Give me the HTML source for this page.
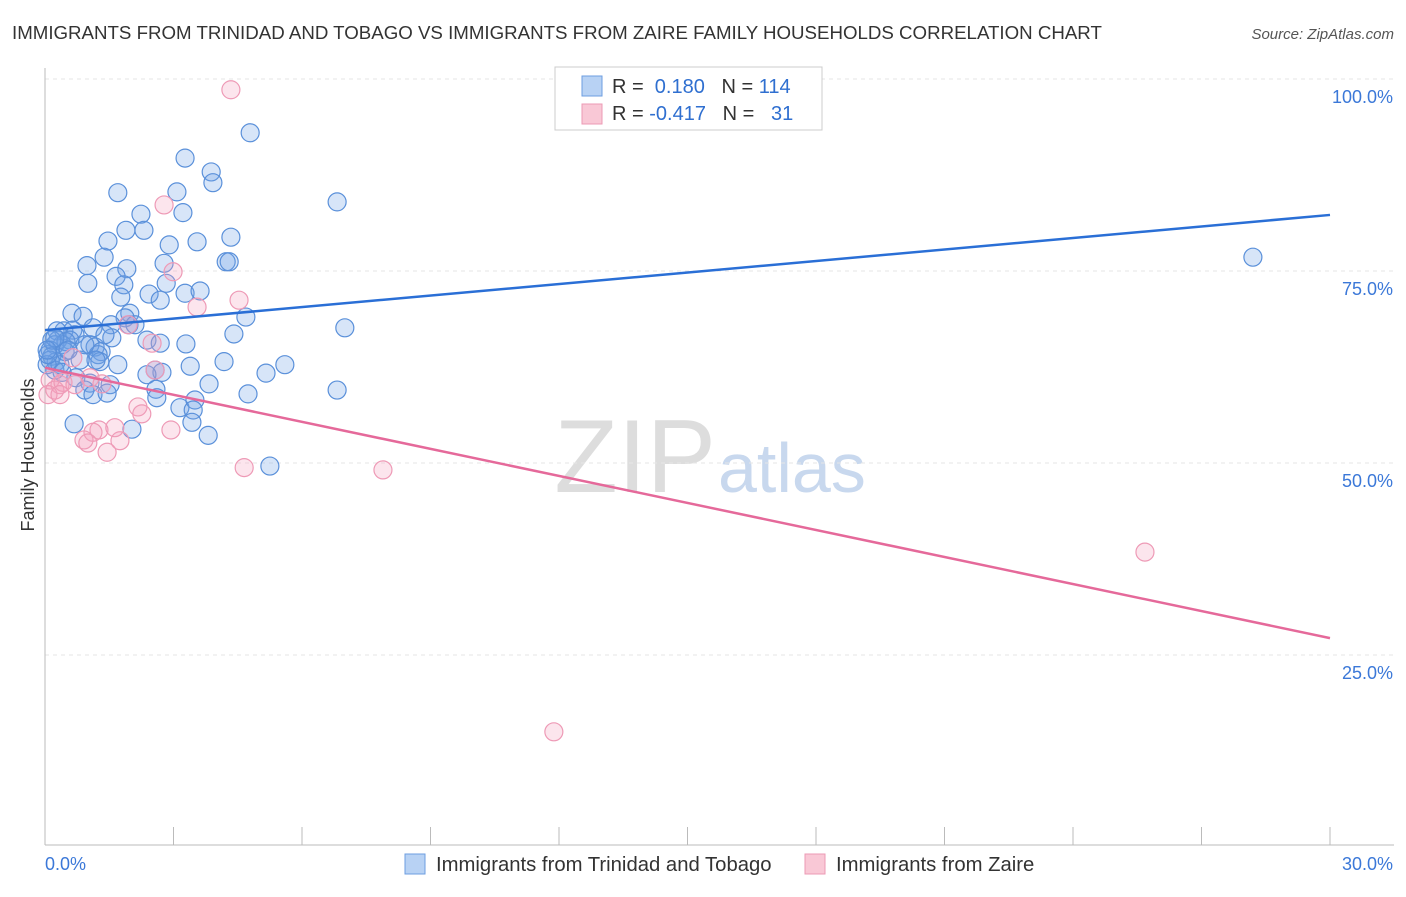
<!DOCTYPE html>
<html><head><meta charset="utf-8"><style>
body{margin:0;background:#fff;font-family:"Liberation Sans",sans-serif;}
svg text{font-family:"Liberation Sans",sans-serif;}
</style></head><body>
<svg id="chart" width="1406" height="892">
<text x="12" y="39" font-size="18.7" fill="#333">IMMIGRANTS FROM TRINIDAD AND TOBAGO VS IMMIGRANTS FROM ZAIRE FAMILY HOUSEHOLDS CORRELATION CHART</text>
<text x="1394" y="39" font-size="15" fill="#555" font-style="italic" text-anchor="end">Source: ZipAtlas.com</text>
<text x="716" y="492" font-size="104" fill="#ddd" text-anchor="end" font-family="Liberation Serif">ZIP</text>
<text x="718" y="492" font-size="70" fill="#c8d8ee">atlas</text>
<g id="grid"></g><g id="axes"></g><g id="pts"></g><g id="lines"></g>
<text transform="translate(34,455) rotate(-90)" font-size="18" fill="#333" text-anchor="middle">Family Households</text>
<g>
<rect x="555" y="67" width="267" height="63" fill="#fff" stroke="#ccc"/>
<rect x="582" y="76" width="20" height="20" fill="#b8d2f4" stroke="#6d9ee0"/>
<rect x="582" y="104" width="20" height="20" fill="#f9c8d6" stroke="#ec9ab4"/>
<text x="612" y="93" font-size="20" fill="#333">R = <tspan fill="#2f6fd0">&#160;0.180</tspan>&#160;&#160;&#160;N = <tspan fill="#2f6fd0">114</tspan></text>
<text x="612" y="120" font-size="20" fill="#333">R = <tspan fill="#2f6fd0">-0.417</tspan>&#160;&#160;&#160;N = <tspan fill="#2f6fd0">&#160;&#160;31</tspan></text>
</g>
<g>
<rect x="405" y="854" width="20" height="20" fill="#b8d2f4" stroke="#6d9ee0"/>
<text x="436" y="871" font-size="20.3" fill="#333">Immigrants from Trinidad and Tobago</text>
<rect x="805" y="854" width="20" height="20" fill="#f9c8d6" stroke="#ec9ab4"/>
<text x="836" y="871" font-size="20.3" fill="#333">Immigrants from Zaire</text>
</g>
</svg>
<script>
const yTicks=[25,50,75,100];
const yTickLabels=["25.0%","50.0%","75.0%","100.0%"];
const xTicks=[0,3,6,9,12,15,18,21,24,27,30];
const blueX=[4.79,3.27,3.88,3.92,1.70,3.08,6.82,2.24,3.22,1.89,2.31,4.34,3.55,2.90,1.47,1.38,0.98,1.91,4.23,4.30,1.66,1.00,2.78,2.83,1.84,1.77,2.43,2.69,3.27,3.62,1.98,1.87,4.69,0.63,0.89,1.54,1.96,2.10,1.12,0.44,0.65,4.41,7.00,0.28,0.30,0.70,0.58,0.40,0.23,0.12,0.16,0.26,0.49,1.05,1.56,1.17,2.38,3.29,2.69,1.31,1.24,1.28,1.19,1.70,3.39,4.18,5.60,5.16,2.57,2.73,2.38,0.72,1.05,1.52,3.83,6.82,0.93,1.12,1.45,2.59,2.61,4.74,3.15,3.50,3.46,3.43,3.81,0.68,2.03,5.25,0.12,0.23,0.35,0.05,0.07,0.16,0.47,0.82,28.2,0.93,1.40,0.23,0.54,0.05,0.40];
const blueY=[93.0,89.7,87.9,86.5,85.2,85.3,84.0,82.4,82.6,80.3,80.3,79.4,78.8,78.4,78.9,76.8,75.7,75.3,76.2,76.2,74.3,73.4,76.0,73.4,73.2,71.6,72.0,71.2,72.1,72.4,69.5,68.9,69.0,69.5,69.1,68.0,68.0,68.0,67.6,67.2,67.3,66.8,67.6,67.2,66.0,66.7,66.0,65.4,65.4,64.7,63.9,63.2,65.8,65.4,66.3,65.1,66.0,65.5,65.6,64.5,64.1,63.2,63.4,62.8,62.6,63.2,62.8,61.7,62.1,61.8,61.5,61.1,60.4,60.2,60.3,59.5,59.5,58.9,59.1,59.6,58.5,59.0,57.2,58.2,56.9,55.3,53.6,55.1,54.4,49.6,63.4,62.1,62.8,62.8,64.1,66.0,64.5,63.4,76.8,65.4,66.7,66.3,64.7,64.7,61.8];
const pinkX=[4.34,2.78,2.99,3.55,4.53,1.94,2.50,2.57,0.65,0.12,0.35,0.23,0.07,0.42,1.05,0.70,1.33,2.17,2.26,1.26,1.12,1.75,0.91,1.00,1.45,2.94,4.65,7.89,25.68,11.88,0.35,1.63];
const pinkY=[98.6,83.6,74.9,70.3,71.2,68.0,65.6,62.1,63.7,60.8,60.2,59.5,58.9,60.5,61.1,60.2,60.3,57.3,56.4,54.3,54.0,52.9,53.0,52.6,51.4,54.3,49.4,49.1,38.4,15.0,58.9,54.6];
const blueTrend=[67.3,82.3];
const pinkTrend=[62.4,27.2];
const NS="http://www.w3.org/2000/svg";
const X0=45,X1=1330,Y100=79,Y50=463;
function sx(v){return X0+(X1-X0)*v/30;}
function sy(v){return Y50-(v-50)*(Y50-Y100)/50;}
function mk(tag,attrs,parent){const e=document.createElementNS(NS,tag);for(const k in attrs)e.setAttribute(k,attrs[k]);document.getElementById(parent).appendChild(e);return e;}
yTicks.forEach((t,i)=>{
 const l=mk('line',{x1:X0,x2:1394,y1:sy(t),y2:sy(t),stroke:'#e6e6e6','stroke-dasharray':'4,4'},'grid');
 
 
 const tx=mk('text',{x:1393,y:sy(t)+24,'font-size':18,fill:'#3b78d8','text-anchor':'end'},'grid');
 tx.textContent=yTickLabels[i];
 
 
});
const ax=mk('line',{x1:X0,x2:X0,y1:68,y2:845,stroke:'#bbb'},'axes');


const bx=mk('line',{x1:X0,x2:1394,y1:845,y2:845,stroke:'#bbb'},'axes');


xTicks.forEach(t=>{
 const l=mk('line',{x1:sx(t),x2:sx(t),y1:827,y2:845,stroke:'#bbb'},'axes');
 
 
});
const xl0=mk('text',{x:45,y:870,'font-size':18,fill:'#3b78d8'},'axes');xl0.textContent='0.0%';


const xl1=mk('text',{x:1393,y:870,'font-size':18,fill:'#3b78d8','text-anchor':'end'},'axes');xl1.textContent='30.0%';


blueX.forEach((v,i)=>{
 const c=mk('circle',{cx:sx(v),cy:sy(blueY[i]),r:9,fill:'rgba(110,160,230,0.28)',stroke:'#5a90da','stroke-width':1.2},'pts');
 
 
});
pinkX.forEach((v,i)=>{
 const c=mk('circle',{cx:sx(v),cy:sy(pinkY[i]),r:9,fill:'rgba(245,160,190,0.28)',stroke:'#ee9ab6','stroke-width':1.2},'pts');
 
 
});
const bl=mk('line',{x1:sx(0),y1:sy(blueTrend[0]),x2:sx(30),y2:sy(blueTrend[1]),stroke:'#2a6fd6','stroke-width':2.5},'lines');


const pl=mk('line',{x1:sx(0),y1:sy(pinkTrend[0]),x2:sx(30),y2:sy(pinkTrend[1]),stroke:'#e5699a','stroke-width':2.5},'lines');


</script>
</body></html>
